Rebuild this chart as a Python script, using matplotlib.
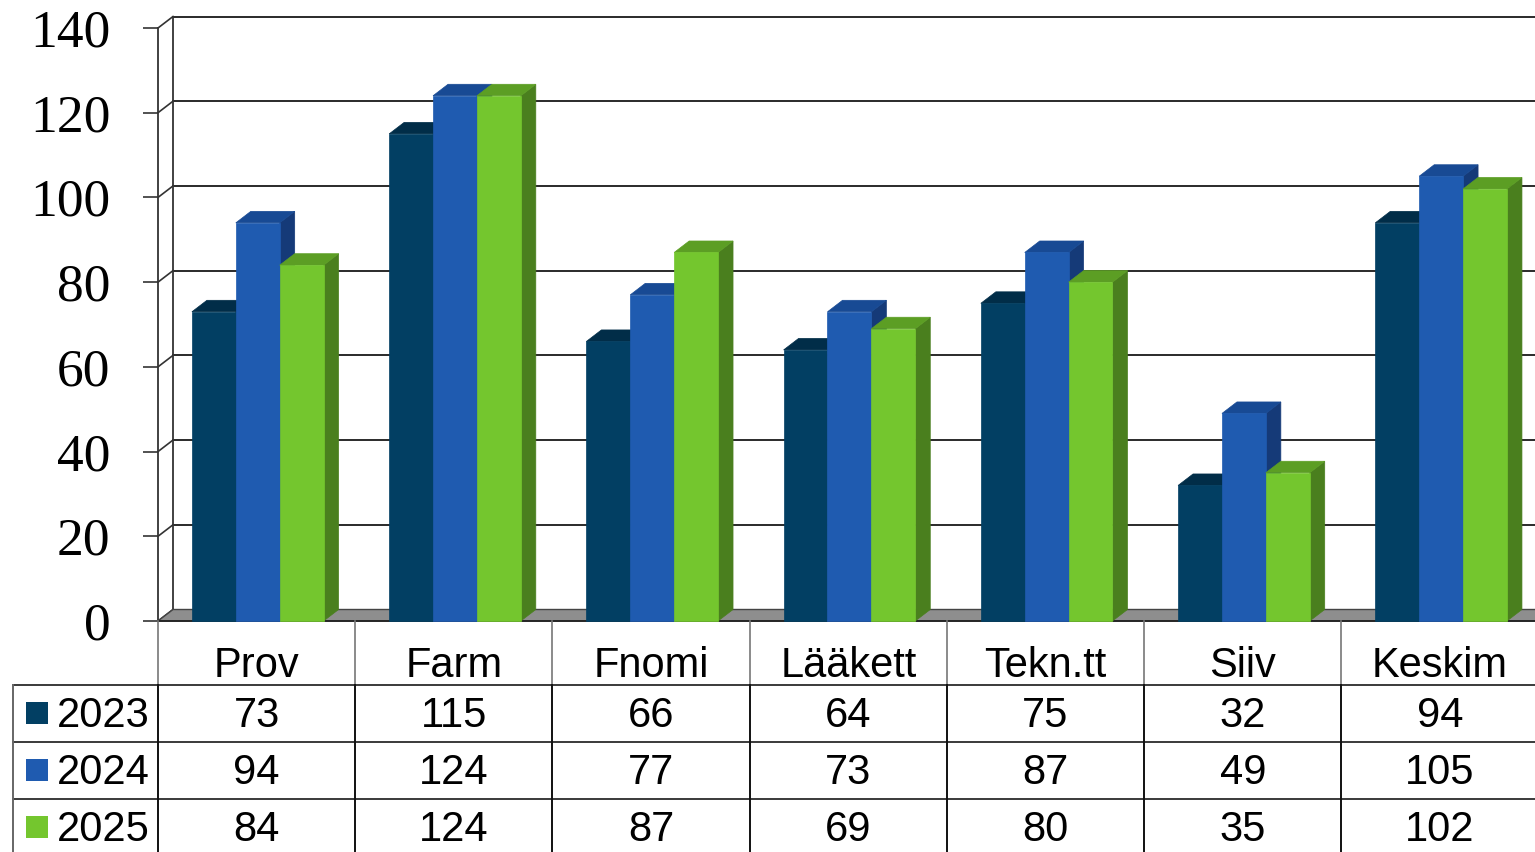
import numpy as np
import matplotlib
matplotlib.use('Agg')
import matplotlib.pyplot as plt
from matplotlib.patches import Polygon, Rectangle
from matplotlib import transforms

# 数据
categories = ['Prov', 'Farm', 'Fnomi', 'Lääkett', 'Tekn.tt', 'Siiv', 'Keskim']
years = ['2023', '2024', '2025']
v2023 = [73, 115, 66, 64, 75, 32, 94]
v2024 = [94, 124, 77, 73, 87, 49, 105]
v2025 = [84, 124, 87, 69, 80, 35, 102]
series = [v2023, v2024, v2025]

# 颜色: 正面, 顶面, 侧面
front_cols = ['#023f63', '#1f5bb0', '#74c62e']
top_cols = ['#012d48', '#184a94', '#5c9e24']
side_cols = ['#01304c', '#153a78', '#4a7f1e']

W, H = 1535, 852
fig = plt.figure(figsize=(W / 100, H / 100), dpi=100)

# 图表坐标轴 (正面平面)
x0, y0_px, y140_px = 158, 621, 28
cat_px = 197.23
ax = fig.add_axes([x0 / W, (H - y0_px) / H, 7 * cat_px / W, (y0_px - y140_px) / H])
ax.set_xlim(0, 7)
ax.set_ylim(0, 140)
ax.patch.set_visible(False)
for s in ['top', 'right', 'bottom']:
    ax.spines[s].set_visible(False)
ax.spines['left'].set_color('#333333')
ax.spines['left'].set_linewidth(1.3)
ax.set_xticks([])
ax.set_yticks(range(0, 141, 20))
ax.tick_params(axis='y', length=10.8, width=1.2, color='#333333', pad=23.5,
               labelsize=38.5)
for lab in ax.get_yticklabels():
    lab.set_fontfamily('Liberation Serif')

px_per_val = (y0_px - y140_px) / 140.0
ddx = 15 / cat_px          # 深度偏移 (类别单位)
ddy = 11.5 / px_per_val    # 深度偏移 (数值单位)

# 侧墙与后墙网格线
for v in range(0, 141, 20):
    ax.plot([0, ddx], [v, v + ddy], color='#333333', lw=1.2, clip_on=False, zorder=1)
    if v > 0:
        ax.plot([ddx, 7.2], [v + ddy, v + ddy], color='#2a2a2a', lw=1.4,
                clip_on=False, zorder=1)
ax.plot([ddx, ddx], [ddy, 140 + ddy], color='#333333', lw=1.3, clip_on=False, zorder=1)

# 地板
floor = Polygon([[0, 0], [7.2, 0], [7.2 + ddx, ddy], [ddx, ddy]], closed=True,
                facecolor='#8e8e8e', edgecolor='#444444', lw=1.0, clip_on=False, zorder=2)
ax.add_patch(floor)
ax.plot([0, 7.2], [0, 0], color='#222222', lw=1.3, clip_on=False, zorder=3)

# 3D 柱子
bar_w = 0.2225
start = 0.172
z = 4
for i in range(len(categories)):
    for j, vals in enumerate(series):
        xl = i + start + j * bar_w
        xr = xl + bar_w
        v = vals[i]
        side = Polygon([[xr, 0], [xr + ddx, ddy], [xr + ddx, v + ddy], [xr, v]],
                       closed=True, facecolor=side_cols[j], edgecolor=side_cols[j],
                       lw=0.5, clip_on=False, zorder=z)
        top = Polygon([[xl, v], [xr, v], [xr + ddx, v + ddy], [xl + ddx, v + ddy]],
                      closed=True, facecolor=top_cols[j], edgecolor=top_cols[j],
                      lw=0.5, clip_on=False, zorder=z)
        front = Rectangle((xl, 0), bar_w, v, facecolor=front_cols[j],
                          edgecolor=front_cols[j], lw=0.5, clip_on=False, zorder=z + 0.5)
        ax.add_patch(side)
        ax.add_patch(top)
        ax.add_patch(front)
        z += 1

# 数据表
tax = fig.add_axes([0, 0, 1, 1])
tax.set_xlim(0, W)
tax.set_ylim(H, 0)
tax.axis('off')
blend = transforms.blended_transform_factory(ax.transData, tax.transData)

row_lines = [685, 742, 799]
row_base = [727, 784, 841]
header_base = 677

for y in row_lines:
    tax.plot([13, W], [y, y], color='#3a3a3a', lw=1.4)
tax.plot([13, 13], [685, H], color='#666666', lw=1.4)
for i in range(8):
    ax_line_x = [i, i]
    tax.plot(ax_line_x, [621, 685], color='#777777', lw=1.2, transform=blend)
    tax.plot(ax_line_x, [685, H], color='#111111', lw=1.4, transform=blend)

font_t = 'Liberation Sans'
for i, c in enumerate(categories):
    tax.text(i + 0.5, header_base, c, ha='center', va='baseline', fontsize=30,
             fontfamily=font_t, transform=blend)
    for j, vals in enumerate(series):
        tax.text(i + 0.5, row_base[j], str(vals[i]), ha='center', va='baseline',
                 fontsize=30, fontfamily=font_t, transform=blend)

for j, y in enumerate(years):
    tax.add_patch(Rectangle((26, row_base[j] - 25), 22, 22,
                            facecolor=front_cols[j], edgecolor='none'))
    tax.text(57, row_base[j], y, ha='left', va='baseline', fontsize=30,
             fontfamily=font_t)

fig.savefig('out.png', dpi=100)
